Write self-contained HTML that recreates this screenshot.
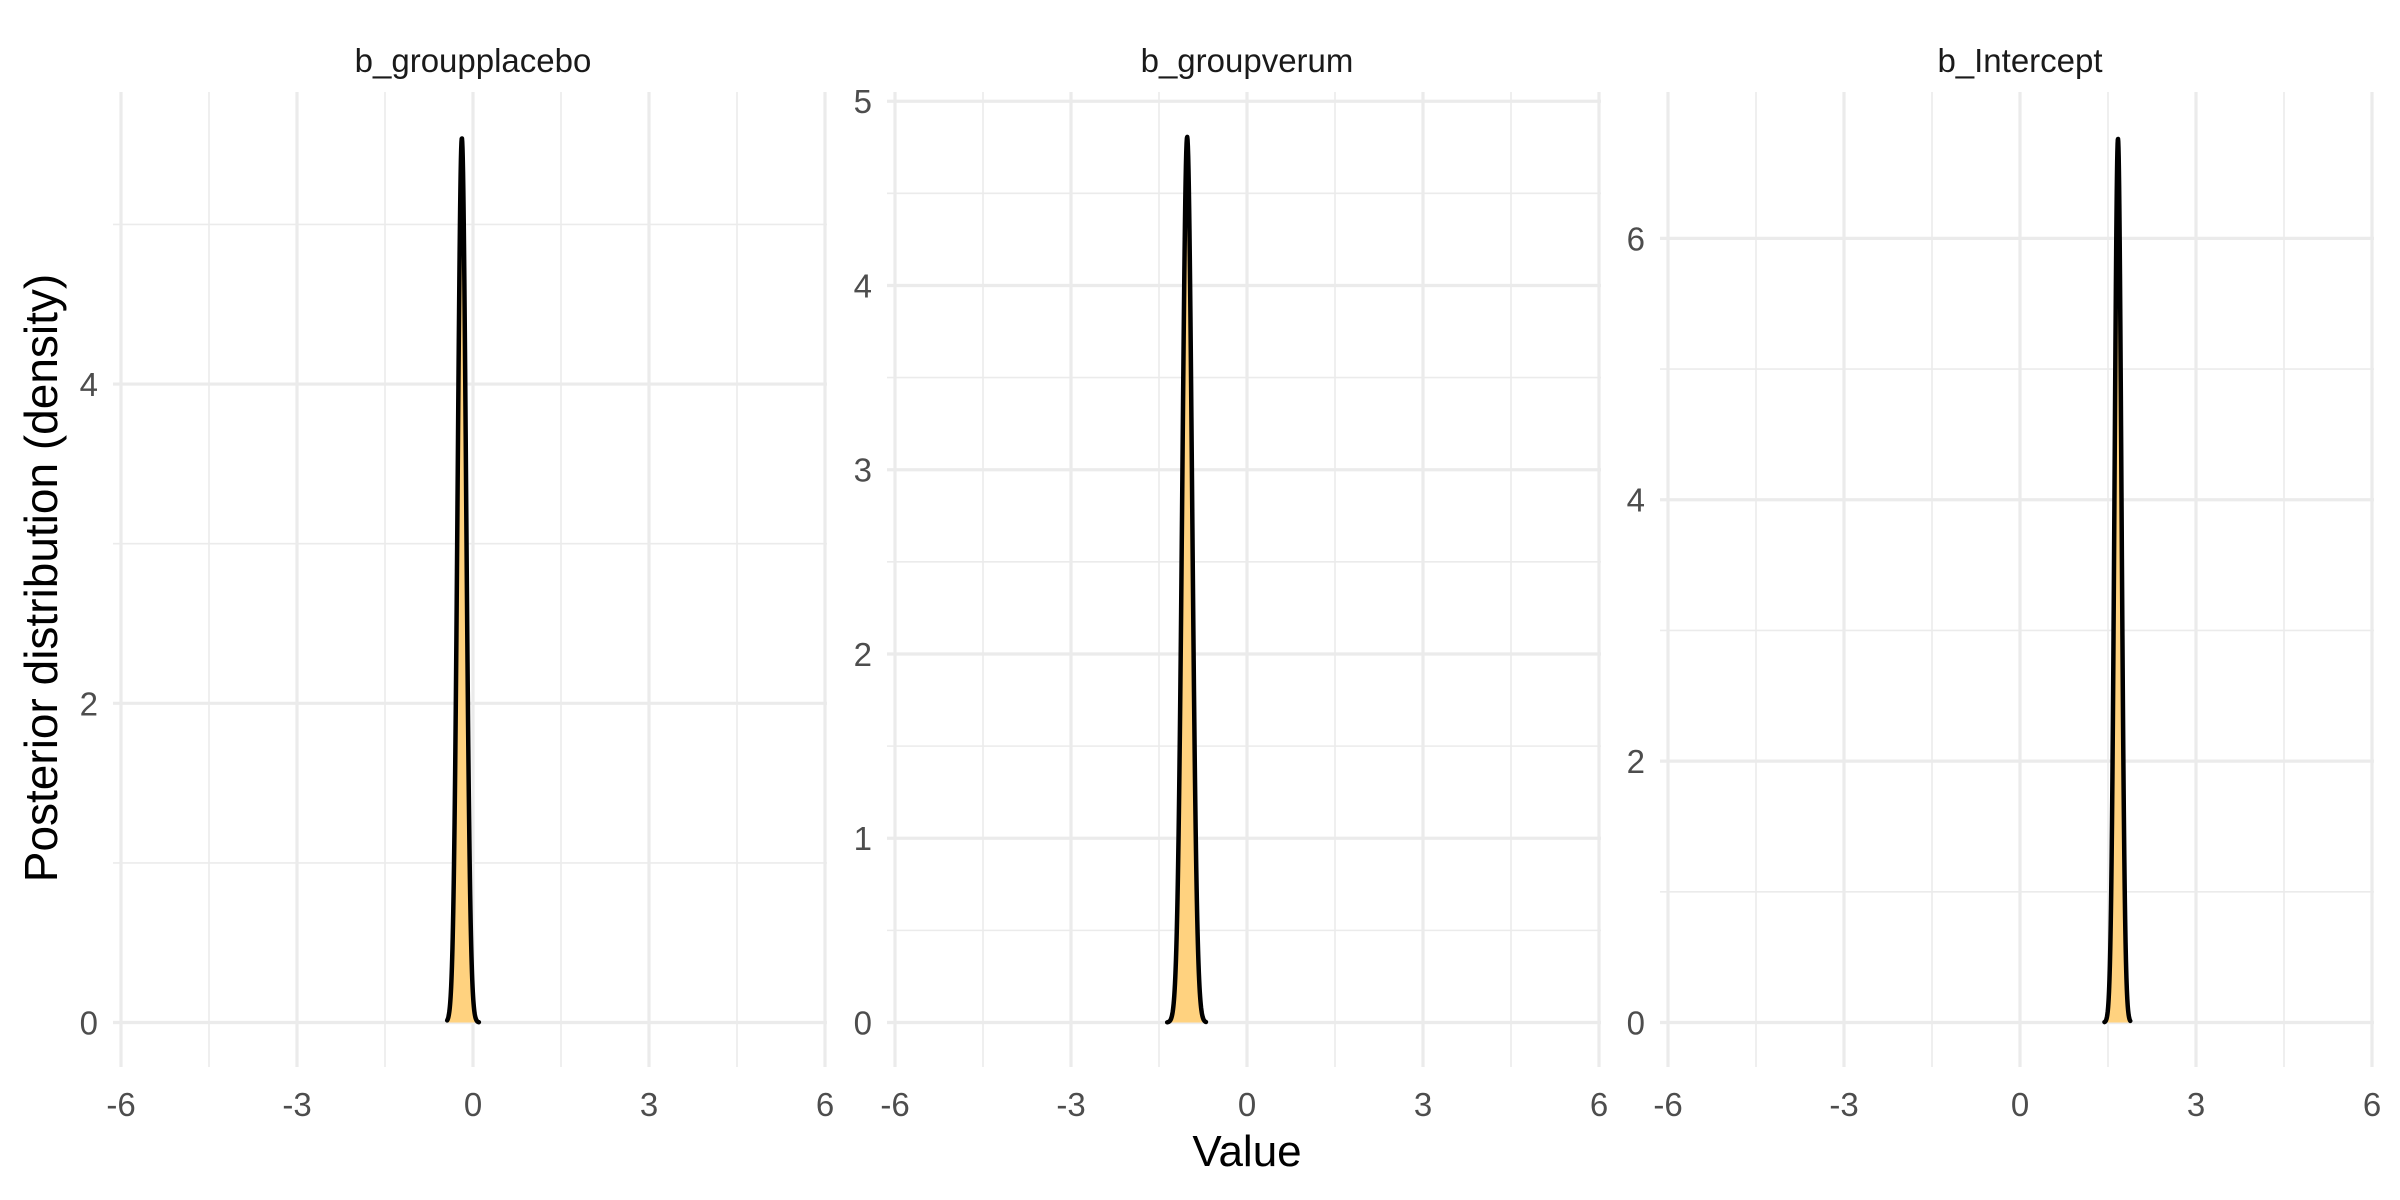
<!DOCTYPE html>
<html><head><meta charset="utf-8"><style>
html,body{margin:0;padding:0;background:#fff;}
svg{display:block;font-family:"Liberation Sans",sans-serif;}
</style></head><body>
<svg id="chart" width="2400" height="1200" viewBox="0 0 2400 1200">
</svg>
<script>
const panelNames = ["b_groupplacebo", "b_groupverum", "b_Intercept"];
const postMeans = [-0.19, -1.02, 1.67];
const postSds = [0.072, 0.083, 0.059];
const rangeLo = [-0.44, -1.36, 1.44];
const rangeHi = [0.10, -0.70, 1.88];
const yMaxes = [5.83, 5.05, 7.12];
const yMajorTicks = [[0, 2, 4], [0, 1, 2, 3, 4, 5], [0, 2, 4, 6]];
const yMinorTicks = [[1, 3, 5], [0.5, 1.5, 2.5, 3.5, 4.5], [1, 3, 5]];
const xTicks = [-6, -3, 0, 3, 6];
const xMinor = [-4.5, -1.5, 1.5, 4.5];

const NS = "http://www.w3.org/2000/svg";
const svg = document.getElementById("chart");
function mk(tag, attrs, parent) {
  const e = document.createElementNS(NS, tag);
  for (const k in attrs) e.setAttribute(k, attrs[k]);
  (parent || svg).appendChild(e);
  return e;
}
const panelLeft = [121, 895, 1668];
const panelW = 704;
const y0px = 1022.5;
const topPx = 92;
const botPx = 1067;

for (let p = 0; p < 3; p++) {
  const g = mk("g", {});
  
  
  const L = panelLeft[p];
  const xs = v => L + (v + 6) / 12 * panelW;
  const pxPerUnit = (y0px - topPx) / yMaxes[p];
  const ys = v => y0px - v * pxPerUnit;
  yMinorTicks[p].forEach(v => {
    const l = mk("line", {x1: L - 8, x2: L + panelW + 2, y1: ys(v), y2: ys(v), stroke: "#ebebeb", "stroke-width": 1.6}, g);
    
    
  });
  xMinor.forEach(v => {
    const l = mk("line", {x1: xs(v), x2: xs(v), y1: topPx, y2: botPx, stroke: "#ebebeb", "stroke-width": 1.6}, g);
    
    
  });
  yMajorTicks[p].forEach(v => {
    const l = mk("line", {x1: L - 8, x2: L + panelW + 2, y1: ys(v), y2: ys(v), stroke: "#ebebeb", "stroke-width": 3.2}, g);
    
    
    const t = mk("text", {x: L - 23, y: ys(v) + 12, "text-anchor": "end", "font-size": 33, fill: "#4d4d4d"}, g);
    t.textContent = v;
    
    
  });
  xTicks.forEach(v => {
    const l = mk("line", {x1: xs(v), x2: xs(v), y1: topPx, y2: botPx, stroke: "#ebebeb", "stroke-width": 3.2}, g);
    
    
    const t = mk("text", {x: xs(v), y: 1116, "text-anchor": "middle", "font-size": 33, fill: "#4d4d4d"}, g);
    t.textContent = v;
    
    
  });
  const st = mk("text", {x: L + panelW / 2, y: 72, "text-anchor": "middle", "font-size": 33, fill: "#1a1a1a"}, g);
  st.textContent = panelNames[p];
  
  
  const m = postMeans[p], s = postSds[p];
  const pts = [];
  const N = 120;
  for (let i = 0; i <= N; i++) {
    const v = rangeLo[p] + (rangeHi[p] - rangeLo[p]) * i / N;
    const d = Math.exp(-0.5 * ((v - m) / s) ** 2) / (s * Math.sqrt(2 * Math.PI));
    pts.push([xs(v), ys(d)]);
  }
  const line = pts.map((q, i) => (i ? "L" : "M") + q[0].toFixed(2) + "," + q[1].toFixed(2)).join("");
  const area = line + "L" + xs(rangeHi[p]).toFixed(2) + "," + y0px + "L" + xs(rangeLo[p]).toFixed(2) + "," + y0px + "Z";
  const a = mk("path", {d: area, fill: "#ffd27f", stroke: "none"}, g);
  
  
  const c = mk("path", {d: line, fill: "none", stroke: "#000", "stroke-width": 4.5, "stroke-linejoin": "round", "stroke-linecap": "round"}, g);
  
  
}
const xt = mk("text", {x: 1247, y: 1166, "text-anchor": "middle", "font-size": 44, fill: "#000"});
xt.textContent = "Value";


const yt = mk("text", {x: 0, y: 0, "text-anchor": "middle", "font-size": 46, fill: "#000", transform: "translate(57,578) rotate(-90)"});
yt.textContent = "Posterior distribution (density)";


</script>
</body></html>
